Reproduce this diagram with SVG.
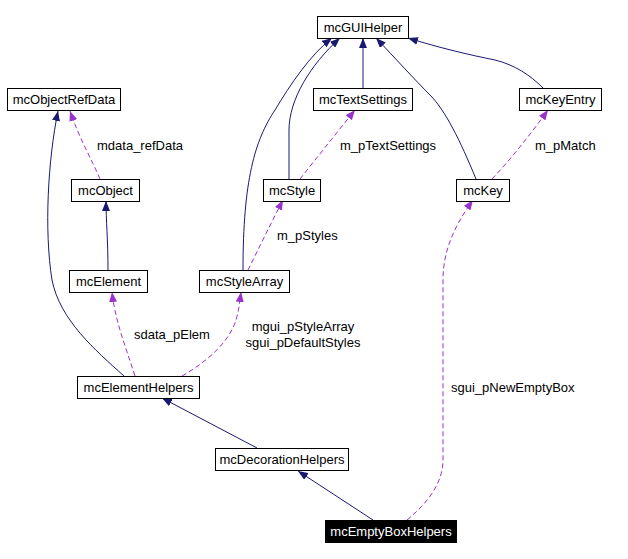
<svg xmlns="http://www.w3.org/2000/svg" width="628" height="559" viewBox="0 0 628 559">
<style>
.node rect{fill:#fff;stroke:#000;stroke-width:1}
.node text{font-family:"Liberation Sans",Arial,sans-serif;font-size:13px;text-anchor:middle;fill:#000}
.node.cur rect{fill:#000}
.node.cur text{fill:#fff}
.inh{fill:none;stroke:#191970;stroke-width:1;marker-end:url(#an)}
.use{fill:none;stroke:#9a32cd;stroke-width:1;stroke-dasharray:5,3;marker-end:url(#ap)}
.lbl{font-family:"Liberation Sans",Arial,sans-serif;font-size:13px;fill:#000}
</style>
<defs>
<marker id="an" markerUnits="userSpaceOnUse" markerWidth="11" markerHeight="8" refX="10" refY="4" orient="auto"><path d="M0,0 L10,4 L0,8 z" fill="#191970"/></marker>
<marker id="ap" markerUnits="userSpaceOnUse" markerWidth="11" markerHeight="8" refX="10" refY="4" orient="auto"><path d="M0,0 L10,4 L0,8 z" fill="#9a32cd"/></marker>
</defs>
<rect width="628" height="559" fill="#fff"/>
<g id="edges">
<path class="use" d="M100,179 C92,160 80,140 70,111"/>
<path class="inh" d="M108,270 C108,240 106,220 106,201"/>
<path class="inh" d="M124,376 C95,350 60,320 52,280 C44,230 48,160 58,111"/>
<path class="use" d="M135,376 C125,345 115,320 112,292"/>
<path class="use" d="M182,376 C210,360 230,340 236,320 C239,310 240,300 241,292"/>
<path class="inh" d="M243,270 C243,180 255,140 275,110 C290,85 310,55 332,38"/>
<path class="inh" d="M289,179 L289,130 C289,100 310,65 340,38"/>
<path class="use" d="M300,179 C315,160 335,135 355,110"/>
<path class="use" d="M248,270 C258,250 270,225 283,200"/>
<path class="inh" d="M363,88 L363,38"/>
<path class="inh" d="M476,179 C460,140 445,110 430,95 C415,80 395,58 376,38"/>
<path class="inh" d="M543,88 C530,75 515,65 495,60 C470,55 440,48 408,38"/>
<path class="use" d="M492,179 C510,160 530,135 548,110"/>
<path class="use" d="M407,520 C425,505 443,485 443,460 L443,280 C443,250 455,225 473,200"/>
<path class="inh" d="M257,448 L162,398"/>
<path class="inh" d="M373,520 L298,471"/>
<text class="lbl" x="97" y="150">mdata_refData</text>
<text class="lbl" x="340" y="150">m_pTextSettings</text>
<text class="lbl" x="535" y="150">m_pMatch</text>
<text class="lbl" x="277" y="240">m_pStyles</text>
<text class="lbl" x="134" y="339">sdata_pElem</text>
<text class="lbl" x="303" y="331" text-anchor="middle">mgui_pStyleArray</text>
<text class="lbl" x="303" y="347" text-anchor="middle">sgui_pDefaultStyles</text>
<text class="lbl" x="451" y="392">sgui_pNewEmptyBox</text>
</g>
<g id="mcGUIHelper" class="node"><rect x="317.5" y="16.5" width="91" height="22"/><text x="363" y="32">mcGUIHelper</text></g>
<g id="mcObjectRefData" class="node"><rect x="7.5" y="88.5" width="113" height="22"/><text x="64" y="104">mcObjectRefData</text></g>
<g id="mcTextSettings" class="node"><rect x="313.5" y="88.5" width="99" height="22"/><text x="363" y="104">mcTextSettings</text></g>
<g id="mcKeyEntry" class="node"><rect x="519.5" y="88.5" width="82" height="22"/><text x="560.5" y="104">mcKeyEntry</text></g>
<g id="mcObject" class="node"><rect x="71.5" y="179.5" width="68" height="22"/><text x="105.5" y="195">mcObject</text></g>
<g id="mcStyle" class="node"><rect x="263.5" y="179.5" width="57" height="22"/><text x="292" y="195">mcStyle</text></g>
<g id="mcKey" class="node"><rect x="456.5" y="179.5" width="53" height="22"/><text x="483" y="195">mcKey</text></g>
<g id="mcElement" class="node"><rect x="69.5" y="270.5" width="78" height="22"/><text x="108.5" y="286">mcElement</text></g>
<g id="mcStyleArray" class="node"><rect x="199.5" y="270.5" width="90" height="22"/><text x="244.5" y="286">mcStyleArray</text></g>
<g id="mcElementHelpers" class="node"><rect x="77.5" y="376.5" width="122" height="22"/><text x="138.5" y="392">mcElementHelpers</text></g>
<g id="mcDecorationHelpers" class="node"><rect x="215.5" y="448.5" width="133" height="22"/><text x="282" y="464">mcDecorationHelpers</text></g>
<g id="mcEmptyBoxHelpers" class="node cur"><rect x="325.5" y="520.5" width="131" height="22"/><text x="391" y="536">mcEmptyBoxHelpers</text></g>
</svg>
